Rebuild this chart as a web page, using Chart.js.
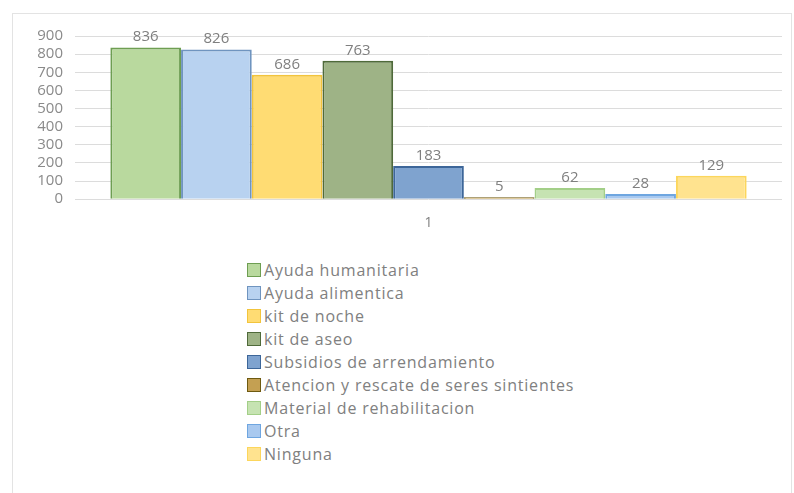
<!DOCTYPE html>
<html>
<head>
<meta charset="utf-8">
<script src="https://cdn.jsdelivr.net/npm/chart.js@4.4.0/dist/chart.umd.js"></script>
<style>
  html, body { margin: 0; padding: 0; background: #fff; }
  body { width: 794px; height: 493px; position: relative; overflow: hidden; font-family: 'Open Sans', sans-serif; }
  .frame { position: absolute; left: 12px; top: 13px; width: 778px; height: 490px; border: 1px solid #e3e3e3; }
  .wrap { position: absolute; left: 0; top: 0; width: 794px; height: 244px; }
  .legend { position: absolute; left: 247px; top: 258px; margin: 0; padding: 0; list-style: none; }
  .legend li { height: 23px; line-height: 20px; font-size: 16px; letter-spacing: 0.8px; color: #808080; display: flex; align-items: center; white-space: nowrap; }
  .legend span.box { width: 14px; height: 14px; border: 1.5px solid; margin-right: 3px; box-sizing: border-box; }
</style>
</head>
<body>
<div class="frame"></div>
<div class="wrap"><canvas id="chart"></canvas></div>
<ul class="legend" id="legend"></ul>
<script>
const categories = ['1'];
const seriesNames = [
  'Ayuda humanitaria',
  'Ayuda alimentica',
  'kit de noche',
  'kit de aseo',
  'Subsidios de arrendamiento',
  'Atencion y rescate de seres sintientes',
  'Material de rehabilitacion',
  'Otra',
  'Ninguna',
];
const seriesValues = [836, 826, 686, 763, 183, 5, 62, 28, 129];
const fillColors = ['#b9d99e', '#b8d2f0', '#ffdc73', '#9eb386', '#7fa3cf', '#c4a052', '#c6e3b2', '#a9c9ef', '#ffe38f'];
const borderColors = ['#6e9e52', '#6f94bf', '#f2c43c', '#4f6a3a', '#3d6699', '#6e5a10', '#a3cf88', '#6fa6e0', '#fcd65c'];
const yTicks = [0, 100, 200, 300, 400, 500, 600, 700, 800, 900];

const datasets = seriesNames.map((name, i) => ({
  label: name,
  data: [seriesValues[i]],
  backgroundColor: fillColors[i],
  borderColor: borderColors[i],
  borderWidth: 2,
  minBarLength: 2,
  categoryPercentage: 0.9,
  barPercentage: 1,
}));

const valueLabels = {
  id: 'valueLabels',
  afterDatasetsDraw(chart) {
    const ctx = chart.ctx;
    ctx.save();
    ctx.font = '15px "Open Sans", sans-serif';
    ctx.fillStyle = '#7f7f7f';
    ctx.textAlign = 'center';
    ctx.textBaseline = 'bottom';
    chart.data.datasets.forEach((ds, i) => {
      chart.getDatasetMeta(i).data.forEach((bar, j) => {
        ctx.fillText(String(ds.data[j]), bar.x, bar.y - 3);
      });
    });
    ctx.restore();
  },
};

new Chart(document.getElementById('chart'), {
  type: 'bar',
  data: { labels: categories, datasets },
  options: {
    responsive: true, maintainAspectRatio: false, animation: false,
    layout: { padding: { left: 35, right: 12, top: 36, bottom: 6 } },
    plugins: { legend: { display: false }, tooltip: { enabled: false } },
    scales: {
      x: {
        grid: { display: false },
        border: { display: false },
        ticks: { color: '#808080', font: { size: 14, family: 'Open Sans' }, padding: 7 },
      },
      y: {
        min: 0, max: 900,
        afterBuildTicks: (axis) => { axis.ticks = yTicks.map((v) => ({ value: v })); },
        afterFit: (axis) => { axis.width = 40; },
        grid: { color: '#dcdcdc', drawTicks: false },
        border: { display: false },
        ticks: { color: '#8a8a8a', font: { size: 15, family: 'Open Sans' }, padding: 12, autoSkip: false },
      },
    },
  },
  plugins: [valueLabels],
});

const legendEl = document.getElementById('legend');
seriesNames.forEach((name, i) => {
  const li = document.createElement('li');
  const box = document.createElement('span');
  box.className = 'box';
  box.style.background = fillColors[i];
  box.style.borderColor = borderColors[i];
  li.appendChild(box);
  li.appendChild(document.createTextNode(name));
  legendEl.appendChild(li);
});
</script>
</body>
</html>
